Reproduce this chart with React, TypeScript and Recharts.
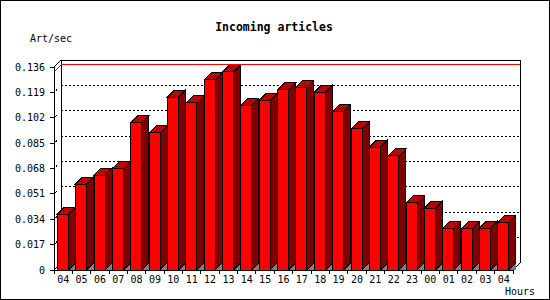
import React from 'react';
import { BarChart, Bar, XAxis, YAxis, CartesianGrid, ReferenceArea, ReferenceLine } from 'recharts';

const hours = ['04', '05', '06', '07', '08', '09', '10', '11', '12', '13', '14', '15', '16', '17', '18', '19', '20', '21', '22', '23', '00', '01', '02', '03', '04'];
const articlesPerSec = [0.0375, 0.0576, 0.0636, 0.0679, 0.0987, 0.0918, 0.1159, 0.1119, 0.1273, 0.1327, 0.1105, 0.1136, 0.1206, 0.1226, 0.1192, 0.1065, 0.0945, 0.0824, 0.0764, 0.0449, 0.0415, 0.0281, 0.0275, 0.0281, 0.0321];
const yTicks = [0, 0.017, 0.034, 0.051, 0.068, 0.085, 0.102, 0.119, 0.136];
const yMax = 0.136;
const title = 'Incoming articles';
const yUnit = 'Art/sec';
const xUnit = 'Hours';

const data = hours.map((h, i) => ({ hour: h, value: articlesPerSec[i] }));
const maxValue = Math.max(...articlesPerSec);

const W = 550;
const H = 300;
const MARGIN = { top: 67, right: 37, bottom: 0, left: 0 };
const Y_AXIS_W = 54;
const X_AXIS_H = 30;
const DEPTH = 7;
const PLOT_W = W - MARGIN.left - MARGIN.right - Y_AXIS_W;
const BAND = PLOT_W / hours.length;
const FONT = '"DejaVu Sans Mono", "Liberation Mono", monospace';

const Bar3D = (p: any) => {
  const x = p.x - 0.7;
  const w = p.width;
  const y = p.y;
  const base = y + p.height;
  const d = DEPTH;
  return (
    <g>
      <polygon points={`${x + w},${base} ${x + w + d},${base - d} ${x + w + d},${base}`} fill="#808080" stroke="none" />
      <polygon
        points={`${x + w},${y} ${x + w + d},${y - d} ${x + w + d},${base - d} ${x + w},${base}`}
        fill="#800000"
        stroke="#000"
      />
      <polygon points={`${x},${y} ${x + d},${y - d} ${x + w + d},${y - d} ${x + w},${y}`} fill="#C00000" stroke="#000" />
      <rect x={x} y={y} width={w} height={p.height} fill="#FF0000" stroke="#000" />
    </g>
  );
};

const YTick = (p: any) => {
  const { x, y, payload, index } = p;
  const v = payload.value as number;
  const label = v === 0 ? '0' : v.toFixed(3);
  const edge = index === 0 || index === yTicks.length - 1;
  return (
    <g>
      <line x1={x - 4} y1={y} x2={x} y2={y} stroke="#000" />
      {!edge && <line x1={x + 1.5} y1={y - 1} x2={x + 3} y2={y - 3} stroke="#000" />}
      <text x={x - 9} y={y} dy="0.36em" textAnchor="end" fontFamily={FONT} fontSize={10} fill="#000">
        {label}
      </text>
    </g>
  );
};

const XTick = (p: any) => {
  const { x, y, payload, index } = p;
  return (
    <g>
      <line x1={x - BAND / 2} y1={y} x2={x - BAND / 2} y2={y + 4} stroke="#000" />
      {index === hours.length - 1 && <line x1={x + BAND / 2} y1={y} x2={x + BAND / 2} y2={y + 4} stroke="#000" />}
      <text x={x} y={y + 13} textAnchor="middle" fontFamily={FONT} fontSize={10} fill="#000">
        {payload.value}
      </text>
    </g>
  );
};

const gridLine = (p: any) => {
  const { x1, y1, x2, y2, key, index } = p;
  if (y1 >= MARGIN.top + 200) return <g key={key ?? `g${index}`} />;
  return (
    <line
      key={key ?? `g${index}`}
      x1={x1 + DEPTH}
      y1={y1 - DEPTH}
      x2={x2 + DEPTH}
      y2={y2 - DEPTH}
      stroke="#000"
      strokeDasharray="2 2"
    />
  );
};

const BackWall = (p: any) => {
  const { x, y, width, height } = p;
  const d = DEPTH;
  const b = y + height;
  return (
    <g fill="none" stroke="#000">
      <polyline points={`${x + d},${b - d} ${x + d},${y - d} ${x + width + d},${y - d} ${x + width + d},${b - d} ${x + width},${b}`} />
      <line x1={x} y1={y} x2={x + d} y2={y - d} />
      <line x1={x} y1={b} x2={x + d} y2={b - d} />
    </g>
  );
};

const MaxLine = (p: any) => {
  const { x1, y1, x2, y2 } = p;
  return (
    <polyline
      points={`${x1},${y1} ${x1 + DEPTH},${y1 - DEPTH} ${x2 + DEPTH},${y2 - DEPTH}`}
      fill="none"
      stroke="#FF0000"
    />
  );
};

export default function App() {
  return (
    <div style={{ position: 'absolute', left: 0, top: 0, width: W, height: H, background: '#fff' }}>
      <BarChart
        width={W}
        height={H}
        data={data}
        margin={MARGIN}
        barSize={11}
        style={{ shapeRendering: 'crispEdges' }}
      >
        <CartesianGrid vertical={false} horizontal={gridLine} />
        <ReferenceArea y1={0} y2={yMax} ifOverflow="visible" shape={BackWall} />
        <ReferenceLine y={maxValue} ifOverflow="visible" shape={MaxLine} />
        <XAxis
          dataKey="hour"
          height={X_AXIS_H}
          interval={0}
          tickLine={false}
          tickSize={0}
          tickMargin={0}
          axisLine={{ stroke: '#000' }}
          tick={XTick}
          allowDuplicatedCategory
        />
        <YAxis
          width={Y_AXIS_W}
          domain={[0, yMax]}
          ticks={yTicks}
          interval={0}
          tickLine={false}
          tickSize={0}
          tickMargin={0}
          axisLine={{ stroke: '#000' }}
          tick={YTick}
        />
        <Bar dataKey="value" isAnimationActive={false} shape={Bar3D} />
      </BarChart>
      <svg width={W} height={H} style={{ position: 'absolute', left: 0, top: 0, pointerEvents: 'none' }}>
        <text x={274} y={30.5} textAnchor="middle" fontFamily={FONT} fontSize={11.5} fontWeight="bold" fill="#000">
          {title}
        </text>
        <text x={30} y={42} fontFamily={FONT} fontSize={10} fill="#000">
          {yUnit}
        </text>
        <text x={505} y={295} fontFamily={FONT} fontSize={10} fill="#000">
          {xUnit}
        </text>
      </svg>
      <div
        style={{
          position: 'absolute',
          left: 0,
          top: 0,
          width: W,
          height: H,
          border: '1px solid #000',
          boxSizing: 'border-box',
          pointerEvents: 'none',
        }}
      />
    </div>
  );
}
